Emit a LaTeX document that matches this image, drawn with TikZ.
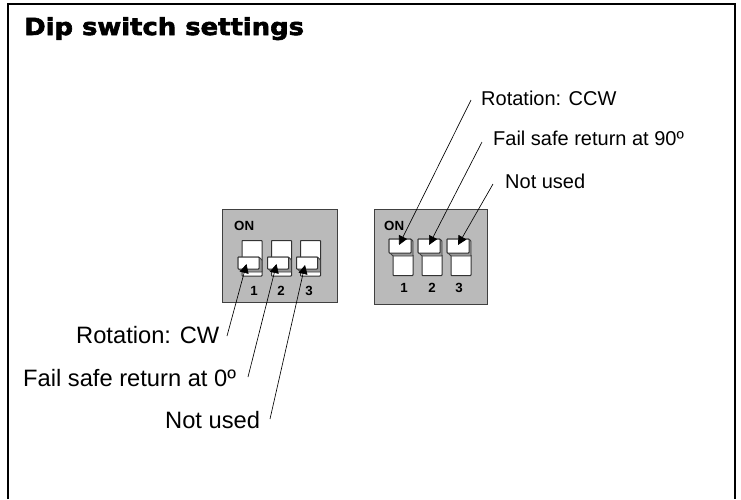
\documentclass[tikz,border=0pt]{standalone}
\usepackage{fontspec}
\setmainfont{Liberation Sans}
\newfontfamily\titlefont{DejaVu Sans}[BoldFeatures={FakeBold=2.6,FakeStretch=1.1}]
\usetikzlibrary{arrows.meta}
\tikzset{
  x=1pt,y=-1pt,
  frameline/.style={draw=black,line width=2.2pt},
  plate/.style={draw=black!75,fill=black!27,line width=1pt},
  slot/.style={draw=black!80,fill=white,line width=1pt,rounded corners=0.6pt},
  slider/.style={draw=black!80,fill=white,line width=1pt,rounded corners=0.6pt},
  shade/.style={draw=black!75,fill=black!40,line width=0.9pt,rounded corners=0.6pt},
  lbl/.style={font=\fontsize{20}{22}\selectfont,inner sep=0pt,anchor=base west},
  lblbig/.style={font=\fontsize{23.7}{26}\selectfont,inner sep=0pt,anchor=base west},
  num/.style={font=\fontsize{13.3}{14}\selectfont\bfseries,inner sep=0pt,anchor=base},
  ontext/.style={font=\fontsize{13.3}{14}\selectfont\bfseries,inner sep=0pt,anchor=base west},
  leader/.style={draw=black,line width=0.65pt,-{Triangle[length=9pt,width=9pt]}},
}
\newcommand{\dipdown}[1]{% slot left x
  \draw[slot] (#1,240.5) rectangle (#1+20,276);
  \draw[shade] (#1-4,257) -- (#1+17,257) -- (#1+20,260) -- (#1+20,272) -- (#1,272) -- (#1-4,268) -- cycle;
  \draw[slider] (#1-4,257) rectangle (#1+17,269);
}
\newcommand{\dipup}[1]{% slot left x
  \draw[slot] (#1,255) rectangle (#1+20,275.5);
  \draw[shade] (#1-4,239) -- (#1+18,239) -- (#1+20,241) -- (#1+20,256) -- (#1,256) -- (#1-4,252) -- cycle;
  \draw[slider] (#1-4,239) rectangle (#1+18,253);
}
\begin{document}
\begin{tikzpicture}
\useasboundingbox (0,0) rectangle (741,499);
\draw[frameline] (8,499) -- (8,4) -- (735,4) -- (735,499);
\node[inner sep=0pt,anchor=base west] (title) at (24,35) {\titlefont\fontsize{23.5}{26}\selectfont\bfseries Dip switch settings};

% left block
\draw[plate] (222,209) rectangle (337,302);
\node[ontext] (onA) at (234,230) {ON};
\dipdown{242}
\dipdown{271.5}
\dipdown{300.5}
\node[num] (a1) at (254,295) {1};
\node[num] (a2) at (281,295) {2};
\node[num] (a3) at (309,295) {3};

% right block
\draw[plate] (374,209) rectangle (487,304);
\node[ontext] (onB) at (384,230) {ON};
\dipup{393}
\dipup{422}
\dipup{451}
\node[num] (b1) at (404,292) {1};
\node[num] (b2) at (432,292) {2};
\node[num] (b3) at (459,292) {3};

% labels
\node[lbl] (t1) at (481,105) {Rotation: CCW};
\node[lbl] (t2) at (493,145) {Fail safe return at 90º};
\node[lbl] (t3) at (505,188) {Not used};
\node[lblbig] (t4) at (76,343) {Rotation: CW};
\node[lblbig] (t5) at (23,386) {Fail safe return at 0º};
\node[lblbig] (t6) at (165,428) {Not used};

\coordinate (c1s) at (471,100);
\coordinate (c1e) at (399,245);
\coordinate (c2s) at (482,142);
\coordinate (c2e) at (429,245);
\coordinate (c3s) at (493,184);
\coordinate (c3e) at (458,245);
\coordinate (c4s) at (227,336);
\coordinate (c4e) at (246.5,264);
\coordinate (c5s) at (248,377);
\coordinate (c5e) at (276.5,264);
\coordinate (c6s) at (270,419);
\coordinate (c6e) at (305,265);
\draw[leader] (c1s) -- (c1e);
\draw[leader] (c2s) -- (c2e);
\draw[leader] (c3s) -- (c3e);
\draw[leader] (c4s) -- (c4e);
\draw[leader] (c5s) -- (c5e);
\draw[leader] (c6s) -- (c6e);
\end{tikzpicture}
\end{document}
